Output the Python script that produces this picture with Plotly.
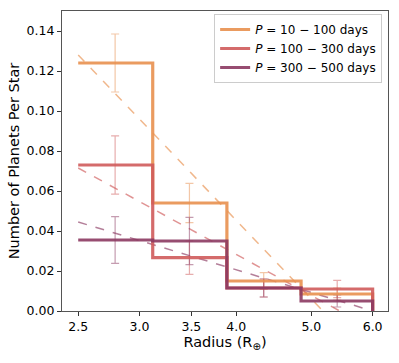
import plotly.graph_objects as go

# bin edges / centres in radius (Earth radii)
bin_edges = [2.5, 3.12, 3.89, 4.85, 6.0]
bin_centers = [2.79, 3.48, 4.34, 5.40]

labels = ["<i>P</i> = 10 − 100 days", "<i>P</i> = 100 − 300 days", "<i>P</i> = 300 − 500 days"]
colors = ["#E8904F", "#CF5B5B", "#8C3A62"]

# planets per star in each radius bin
occ_10_100 = [0.124, 0.054, 0.015, 0.0085]
occ_100_300 = [0.073, 0.0267, 0.0115, 0.011]
occ_300_500 = [0.0355, 0.035, 0.0115, 0.005]

err_10_100 = [0.0145, 0.0098, 0.0042, 0.003]
err_100_300 = [0.0146, 0.0084, 0.0045, 0.0043]
err_300_500 = [0.0117, 0.0118, 0.0045, 0.003]

# dashed fit lines, evaluated at the ends of the radius range
fit_x = [2.5, 6.0]
fit_10_100 = [0.128, -0.026]
fit_100_300 = [0.0715, -0.009]
fit_300_500 = [0.0445, 0.0]

occ = [occ_10_100, occ_100_300, occ_300_500]
errs = [err_10_100, err_100_300, err_300_500]
fits = [fit_10_100, fit_100_300, fit_300_500]


def rgba(hex_col, a):
    h = hex_col.lstrip("#")
    r, g, b = int(h[0:2], 16), int(h[2:4], 16), int(h[4:6], 16)
    return f"rgba({r},{g},{b},{a})"


fig = go.Figure()

for col, fit in zip(colors, fits):
    fig.add_trace(go.Scatter(x=fit_x, y=fit, mode="lines", showlegend=False,
                             line=dict(color=rgba(col, 0.65), width=1.5, dash="dash")))

for col, e, vals in zip(colors, errs, occ):
    fig.add_trace(go.Scatter(x=bin_centers, y=vals, mode="markers", showlegend=False,
                             marker=dict(size=1, color="rgba(0,0,0,0)"),
                             error_y=dict(type="data", array=e, color=rgba(col, 0.5),
                                          thickness=1.2, width=4)))

for lab, col, vals in zip(labels, colors, occ):
    fig.add_trace(go.Scatter(x=bin_edges, y=vals + [0], mode="lines", name=lab,
                             line=dict(color=rgba(col, 0.9), width=3.2, shape="hv")))

axis_style = dict(showline=True, linecolor="#555555", linewidth=1.2, mirror=True,
                  ticks="outside", ticklen=4, tickcolor="#333333", showgrid=False,
                  zeroline=False, automargin=False, tickfont=dict(size=12.5, color="black"))

fig.update_xaxes(type="log", range=[0.377, 0.798],
                 tickvals=[2.5, 3.0, 3.5, 4.0, 5.0, 6.0],
                 ticktext=["2.5", "3.0", "3.5", "4.0", "5.0", "6.0"],
                 title=dict(text="Radius (R<sub>⊕</sub>)", font=dict(size=14.5, color="black"),
                            standoff=3),
                 **axis_style)
fig.update_yaxes(range=[0, 0.15], tickvals=[0, 0.02, 0.04, 0.06, 0.08, 0.10, 0.12, 0.14],
                 tickformat=".2f",
                 title=dict(text="Number of Planets Per Star", font=dict(size=14.5, color="black"),
                            standoff=3),
                 **axis_style)

fig.update_layout(
    width=399, height=363,
    margin=dict(l=62, r=11, t=11, b=52),
    plot_bgcolor="white", paper_bgcolor="white",
    font=dict(family="DejaVu Sans", size=12, color="black"),
    legend=dict(x=0.982, y=0.99, xanchor="right", yanchor="top",
                bgcolor="rgba(255,255,255,0.8)", bordercolor="#cccccc", borderwidth=1,
                font=dict(size=12), tracegroupgap=0, itemwidth=30),
)

# page body has an 8px default margin; drop it so the figure sits at (0, 0)
fig.write_html("out.html", config={"displayModeBar": False},
               post_script="document.body.style.margin='0';")
